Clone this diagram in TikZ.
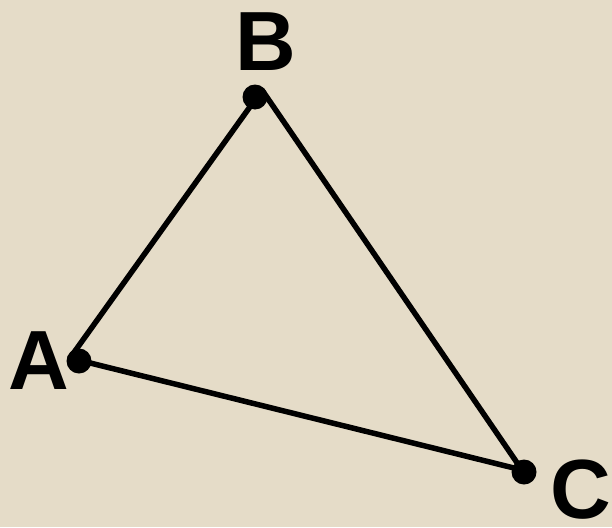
\documentclass[tikz,border=0pt]{standalone}
\usepackage{fontspec}
\setmainfont{Liberation Sans}
\begin{document}
\begin{tikzpicture}[x=1pt,y=-1pt,
  vdot/.style={circle,fill=black,inner sep=0pt,minimum size=25pt},
  vlabel/.style={inner sep=0pt,font=\fontsize{84}{84}\selectfont\bfseries},
  edge/.style={line width=5.5pt,line cap=round,line join=round}]
  \fill[fill={rgb,255:red,229;green,220;blue,200}] (0,0) rectangle (612,527);
  \useasboundingbox (0,0) rectangle (612,527);
  \coordinate (pA) at (70,358);
  \coordinate (pB) at (262,90);
  \coordinate (pC) at (522,470);
  \draw[edge] (pA) -- (pB) -- (pC) -- cycle;
  \node[vdot] (A) at (79,361) {};
  \node[vdot] (B) at (255,97) {};
  \node[vdot] (C) at (524,472) {};
  \node[vlabel] (la) at (39,361) {A};
  \node[vlabel] (lb) at (266,42) {B};
  \node[vlabel] (lc) at (581,490) {C};
\end{tikzpicture}
\end{document}
